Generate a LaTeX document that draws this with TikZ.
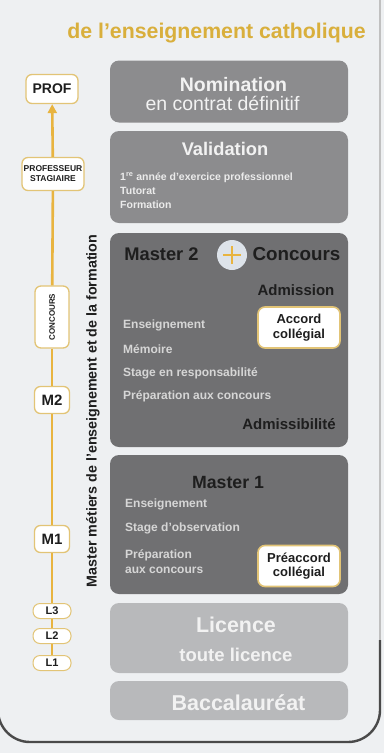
\documentclass[tikz,border=0pt]{standalone}
\usepackage{fontspec}
\setmainfont{Liberation Sans}
\usetikzlibrary{arrows.meta,calc}
\definecolor{bgc}{HTML}{EEF0F2}
\definecolor{gold}{HTML}{E8B440}
\definecolor{titlegold}{HTML}{D9AF3C}
\definecolor{midgray}{HTML}{8C8C8E}
\definecolor{darkgray}{HTML}{707072}
\definecolor{lightgray}{HTML}{B8B9BB}
\definecolor{itemc}{HTML}{D6D6D6}
\definecolor{headc}{HTML}{1E1E1E}
\definecolor{lblborder}{HTML}{E2C476}
\definecolor{framec}{HTML}{4A4A4A}
\definecolor{plusbg}{HTML}{DDE3EA}
\tikzset{
  box/.style={rectangle, rounded corners=9pt, minimum width=238pt, inner sep=0pt},
  lbl/.style={rectangle, rounded corners=6pt, draw=lblborder, line width=1.3pt, fill=white, inner sep=1pt, align=center, text=headc, font=\bfseries},
  item/.style={anchor=west, text=itemc, font=\bfseries\fontsize{12}{14}\selectfont, inner sep=0pt, align=left},
  vitem/.style={anchor=west, text=white!92!black, font=\bfseries\fontsize{10.5}{12}\selectfont, inner sep=0pt, align=left},
  vline/.style={draw=gold, line width=2.6pt},
  whitehead/.style={text=white!95!black, font=\bfseries\fontsize{18.3}{20}\selectfont, inner sep=0pt},
  darkhead/.style={text=headc, font=\bfseries\fontsize{18.3}{20}\selectfont, inner sep=0pt},
  accord/.style={rectangle, rounded corners=7pt, draw=lblborder, line width=1.6pt, fill=white, minimum width=82pt, minimum height=41pt, align=center, text=headc, font=\bfseries\fontsize{13}{14.5}\selectfont, inner sep=0pt},
}
\begin{document}
\begin{tikzpicture}[x=1pt,y=-1pt]
\useasboundingbox (0,0) rectangle (384,753);
\fill[bgc] (0,0) rectangle (384,753);
% frame
\draw[framec!35, line width=1.2pt] (380,-5) -- (380,640);
\draw[framec, line width=2.4pt, rounded corners=32pt] (380,640) -- (380,742) -- (-2,742) -- (-2,640);

% title
\node[text=titlegold, font=\bfseries\fontsize{21.3}{24}\selectfont, inner sep=0pt] (title) at (216.5,33) {de l’enseignement catholique};

% boxes
\node[box, fill=midgray, minimum height=62pt] (nom) at (229,91.5) {};
\node[whitehead, font=\bfseries\fontsize{19.5}{22}\selectfont] (nomt) at (233.5,85) {Nomination};
\node[text=white!95!black, font=\fontsize{19.5}{22}\selectfont, inner sep=0pt] (nomt2) at (222.5,103) {en contrat définitif};

\node[box, fill=midgray, minimum height=92pt] (val) at (229,177) {};
\node[whitehead] (valt) at (225,149) {Validation};
\node[vitem] (v1) at (120,178) {1\textsuperscript{re} année d’exercice professionnel};
\node[vitem] (v2) at (120,191) {Tutorat};
\node[vitem] (v3) at (120,205) {Formation};

\node[box, fill=darkgray, minimum height=214pt] (m2) at (229,340) {};
\node[darkhead] (m2t) at (161.5,254) {Master 2};
\node[circle, fill=plusbg, minimum size=30pt, inner sep=0pt] (plus) at (232,255) {};
\draw[gold, line width=2.6pt] ($(plus)+(-9,0)$) -- ($(plus)+(9,0)$);
\draw[gold, line width=2.6pt] ($(plus)+(0,-9)$) -- ($(plus)+(0,9)$);
\node[darkhead, font=\bfseries\fontsize{18.8}{20}\selectfont] (conc) at (296.5,254) {Concours};
\node[darkhead, font=\bfseries\fontsize{15}{18}\selectfont] (adm) at (296,290) {Admission};
\node[accord] (acc) at (299,327.5) {Accord\\collégial};
\node[item] (e1) at (123,325) {Enseignement};
\node[item] (e2) at (123,349) {Mémoire};
\node[item] (e3) at (123,373) {Stage en responsabilité};
\node[item] (e4) at (123,396) {Préparation aux concours};
\node[darkhead, font=\bfseries\fontsize{15}{18}\selectfont] (admi) at (289,424) {Admissibilité};

\node[box, fill=darkgray, minimum height=139pt] (m1) at (229,524.5) {};
\node[darkhead, font=\bfseries\fontsize{17.7}{20}\selectfont] (m1t) at (228,482) {Master 1};
\node[item] (f1) at (125,504) {Enseignement};
\node[item] (f2) at (125,528) {Stage d’observation};
\node[item, align=left] (f3) at (125,561.5) {Préparation\\[1pt]aux concours};
\node[accord] (pre) at (299,566) {Préaccord\\collégial};

\node[box, fill=lightgray, minimum height=70pt] (lic) at (229,638) {};
\node[whitehead, font=\bfseries\fontsize{21.4}{24}\selectfont] (lict) at (236,625) {Licence};
\node[whitehead, font=\bfseries\fontsize{18.5}{20}\selectfont] (lict2) at (236,655) {toute licence};

\node[box, fill=lightgray, minimum height=39pt] (bac) at (229,700.5) {};
\node[whitehead, font=\bfseries\fontsize{21.5}{24}\selectfont] (bact) at (238.5,703) {Baccalauréat};

% vertical caption
\node[rotate=90, text=headc, font=\bfseries\fontsize{14.3}{16}\selectfont, inner sep=0pt] (cap) at (93,411) {Master métiers de l’enseignement et de la formation};

% left labels
\node[lbl, minimum width=52pt, minimum height=29pt, font=\bfseries\fontsize{14}{16}\selectfont] (prof) at (52,89) {PROF};
\node[lbl, minimum width=62pt, minimum height=33pt, font=\bfseries\fontsize{8.5}{10}\selectfont] (stag) at (53,174) {PROFESSEUR\\STAGIAIRE};
\node[lbl, minimum width=62pt, minimum height=34pt, rotate=90, font=\bfseries\fontsize{8}{10}\selectfont] (cc) at (52,317) {CONCOURS};
\node[lbl, minimum width=35pt, minimum height=27pt, font=\bfseries\fontsize{15}{16}\selectfont] (lm2) at (52,400) {M2};
\node[lbl, minimum width=35pt, minimum height=27pt, font=\bfseries\fontsize{15}{16}\selectfont] (lm1) at (52,539) {M1};
\node[lbl, minimum width=38pt, minimum height=15pt, rounded corners=7pt, line width=1pt, font=\bfseries\fontsize{11}{12}\selectfont, inner sep=0pt] (l3) at (52,611) {L3};
\node[lbl, minimum width=38pt, minimum height=15pt, rounded corners=7pt, line width=1pt, font=\bfseries\fontsize{11}{12}\selectfont, inner sep=0pt] (l2) at (52,636) {L2};
\node[lbl, minimum width=38pt, minimum height=15pt, rounded corners=7pt, line width=1pt, font=\bfseries\fontsize{11}{12}\selectfont, inner sep=0pt] (l1) at (52,663) {L1};

% connectors
\draw[vline] (l1) -- (l2);
\draw[vline] (l2) -- (l3);
\draw[vline] (l3) -- (lm1);
\draw[vline] (lm1) -- (lm2);
\draw[vline] (lm2) -- (cc);
\draw[vline] (cc) -- (stag);
\draw[vline, -{Triangle[length=9pt,width=9pt]}] (stag) -- (prof);
\end{tikzpicture}
\end{document}
